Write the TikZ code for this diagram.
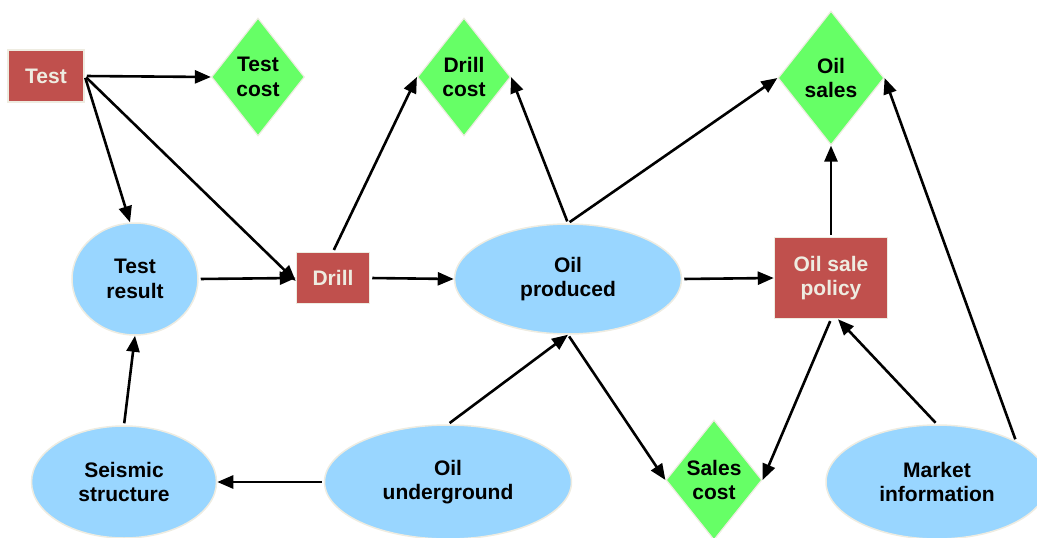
\documentclass[tikz,border=0pt]{standalone}
\usepackage{fontspec}
\setmainfont{Liberation Sans}
\usetikzlibrary{shapes.geometric,arrows.meta}
\definecolor{decred}{HTML}{C0504D}
\definecolor{valgreen}{HTML}{66FF66}
\definecolor{chanceblue}{HTML}{99D6FF}
\definecolor{rimcream}{HTML}{EEECE1}
\begin{document}
\begin{tikzpicture}[x=1pt,y=-1pt,
  lbl/.style={font=\bfseries\fontsize{21}{24.5}\selectfont, align=center, inner sep=0pt},
  decision/.style={lbl, rectangle, fill=decred, draw=rimcream, line width=1.5pt, text=rimcream},
  value/.style={lbl, diamond, aspect=0.8, fill=valgreen, draw=rimcream, line width=1.2pt, text=black},
  chance/.style={lbl, ellipse, fill=chanceblue, draw=rimcream, line width=1.5pt, text=black},
  link/.style={line width=2.6pt, -{Triangle[length=16pt,width=13pt]}, shorten <=2pt}]
\clip (0,0) rectangle (1037,538);

% decisions
\node[decision, minimum width=76, minimum height=52] (test) at (46,76) {Test};
\node[decision, minimum width=73, minimum height=51] (drill) at (333,278) {Drill};
\node[decision, minimum width=113, minimum height=81] (policy) at (831,278) {Oil sale\\policy};

% values
\node[value, minimum width=93, minimum height=118] (tcost) at (258,77) {Test\\cost};
\node[value, minimum width=93, minimum height=118] (dcost) at (464,77) {Drill\\cost};
\node[value, minimum width=106, minimum height=134] (sales) at (831,78) {Oil\\sales};
\node[value, minimum width=96, minimum height=120] (scost) at (714,480) {Sales\\cost};

% chance nodes
\node[chance, minimum width=126, minimum height=112] (tres) at (135,279) {Test\\result};
\node[chance, minimum width=227, minimum height=110] (prod) at (568,279) {Oil\\produced};
\node[chance, minimum width=185, minimum height=112] (seis) at (124,482) {Seismic\\structure};
\node[chance, minimum width=247, minimum height=114] (under) at (448,482) {Oil\\underground};
\node[chance, minimum width=222, minimum height=114] (market) at (937,482) {Market\\information};

% influences
\draw[link] (test.east) -- (tcost.west);
\draw[link] (test.east) -- ([xshift=-5pt]tres.north);
\draw[link] (test.east) -- ([yshift=-3pt]drill.west);
\draw[link] (tres.east) -- (drill.west);
\draw[link] (drill.north) -- (dcost.west);
\draw[link] (drill.east) -- (prod.west);
\draw[link] (prod.north) -- (dcost.east);
\draw[link] (prod.north) -- (sales.west);
\draw[link] (prod.east) -- (policy.west);
\draw[link] (policy.north) -- (sales.south);
\draw[link] (under.north) -- (prod.south);
\draw[link] (prod.south) -- (scost.west);
\draw[link] (policy.south) -- (scost.east);
\draw[link] (market.north) -- ([xshift=7pt]policy.south);
\draw[link] (market.north east) -- (sales.east);
\draw[link] (under.west) -- (seis.east);
\draw[link] (seis.north) -- (tres.south);
\end{tikzpicture}
\end{document}
